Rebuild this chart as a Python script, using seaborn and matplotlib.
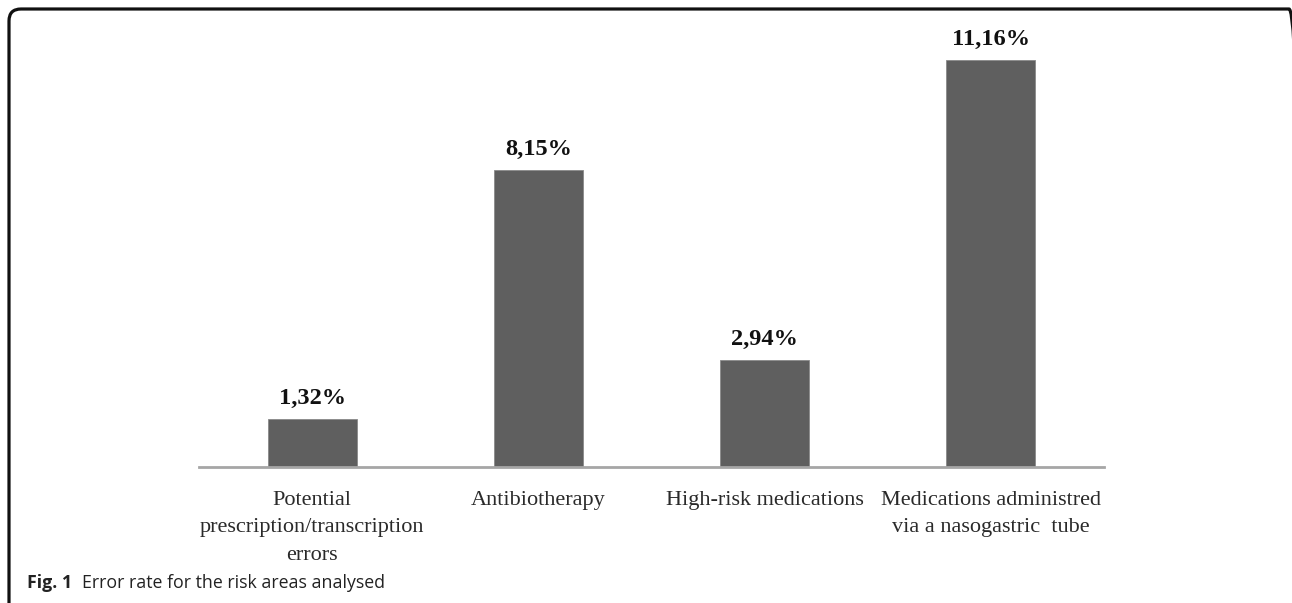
import matplotlib
matplotlib.use("Agg")
import matplotlib.pyplot as plt
from matplotlib.patches import FancyBboxPatch
from matplotlib.transforms import IdentityTransform
import seaborn as sns
import pandas as pd

categories = [
    "Potential\nprescription/transcription\nerrors",
    "Antibiotherapy",
    "High-risk medications",
    "Medications administred\nvia a nasogastric  tube",
]
error_rates = [1.32, 8.15, 2.94, 11.16]
value_labels = ["1,32%", "8,15%", "2,94%", "11,16%"]

sns.set_theme(style="white")
plt.rcParams["font.family"] = ["Liberation Serif", "DejaVu Serif"]

df = pd.DataFrame({"area": categories, "rate": error_rates})

fig = plt.figure(figsize=(12.92, 6.03), dpi=100)
W, H = 1292, 603
ax = fig.add_axes([199 / W, (H - 467) / H, (1104 - 199) / W, (467 - 29) / H])

sns.barplot(data=df, x="area", y="rate", color="#5f5f5f", saturation=1,
            width=0.394, ax=ax, edgecolor="#8a8a8a", linewidth=0.6)

ax.set_xlim(-0.5, 3.5)
ax.set_ylim(0, 12.0)
ax.set_xlabel("")
ax.set_ylabel("")
ax.set_yticks([])
for side in ["top", "right", "left"]:
    ax.spines[side].set_visible(False)
ax.spines["bottom"].set_color("#a6a6a6")
ax.spines["bottom"].set_linewidth(2)
ax.tick_params(axis="x", length=0, pad=17)
ax.set_xticks(range(len(categories)))
ax.set_xticklabels(categories, fontsize=16.0, color="#2a2a2a", linespacing=1.62,
                   va="top")

for i, (v, lab) in enumerate(zip(error_rates, value_labels)):
    ax.annotate(lab, (i, v), xytext=(0, 7), textcoords="offset points",
                ha="center", va="bottom", fontsize=17.6, fontweight="bold",
                color="#111111")

# rounded frame around the figure (bottom and right edges run off the canvas)
frame = FancyBboxPatch((9, -30), 1301 - 9, (H - 9) + 30,
                       boxstyle="round,pad=0,rounding_size=12",
                       transform=IdentityTransform(), fill=False,
                       edgecolor="#111111", linewidth=2.3)
fig.patches.append(frame)

fig.text(27 / W, (H - 588) / H, "Fig. 1", fontsize=12.8, fontweight="bold",
         family=["Open Sans", "DejaVu Sans"], color="#222222", va="baseline")
fig.text(82 / W, (H - 588) / H, "Error rate for the risk areas analysed",
         fontsize=12.8, family=["Open Sans", "DejaVu Sans"], color="#222222",
         va="baseline")

fig.savefig("out.png", dpi=100)
